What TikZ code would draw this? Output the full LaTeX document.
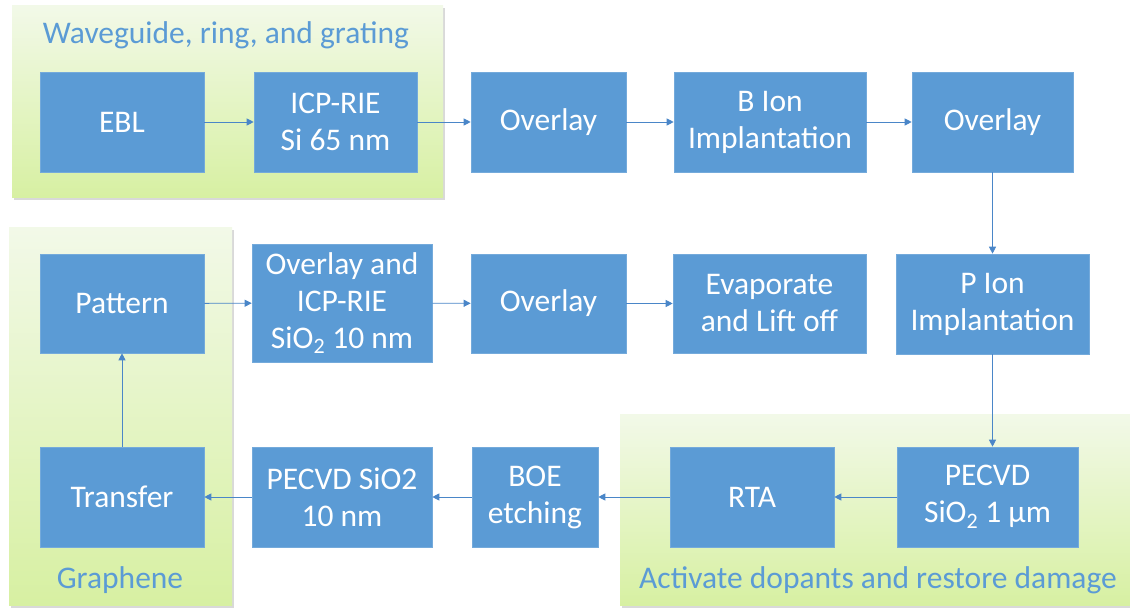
\documentclass[tikz,border=0pt]{standalone}
\usepackage{fontspec}
\setmainfont{Carlito}
\usetikzlibrary{arrows.meta,shadows}
\definecolor{boxblue}{HTML}{5B9BD5}
\definecolor{arrowblue}{HTML}{4A86C8}
\definecolor{labelblue}{HTML}{5B9BD5}
\definecolor{gtop}{HTML}{F2F9E8}
\definecolor{gbot}{HTML}{D7F0A2}
\tikzset{
  stepbox/.style={rectangle, fill=boxblue, draw=boxblue!85!white, line width=0.6pt, text=white,
    font=\fontsize{31.5}{37}\selectfont, align=center, inner sep=0pt},
  group/.style={top color=gtop, bottom color=gbot, draw=none,
    drop shadow={shadow xshift=1.5pt, shadow yshift=-2.5pt, opacity=0.25, fill=black!60}},
  grouplabel/.style={text=labelblue, font=\fontsize{31.5}{37}\selectfont, inner sep=0pt},
  flow/.style={draw=arrowblue, line width=0.9pt, -{Triangle[length=7pt,width=7pt]}}
}
\begin{document}
\begin{tikzpicture}[x=1pt,y=-1pt]
\useasboundingbox (0,0) rectangle (1130,609);
% groups
\path[group] (12,6) rectangle (443,198);
\path[group] (9,228) rectangle (232,605);
\path[group] (620,415) rectangle (1136,605);
\node[grouplabel] (l1) at (226,35) {Waveguide, ring, and grating};
\node[grouplabel] (l2) at (120,580) {Graphene};
\node[grouplabel] (l3) at (878,580) {Activate dopants and restore damage};
% row 1
\node[stepbox, minimum width=164, minimum height=100] (ebl) at (122,122) {EBL};
\node[stepbox, minimum width=163, minimum height=100] (icp) at (335.5,122) {ICP-RIE\\Si 65 nm};
\node[stepbox, minimum width=155, minimum height=100] (ov1) at (548.5,122) {Overlay};
\node[stepbox, minimum width=192, minimum height=100] (bion) at (770,122) {B Ion\\Implantation};
\node[stepbox, minimum width=161, minimum height=100] (ov2) at (992.5,122) {Overlay};
% row 2
\node[stepbox, minimum width=164, minimum height=99] (pat) at (122,303.5) {Pattern};
\node[stepbox, minimum width=180, minimum height=118] (ovicp) at (342,303) {Overlay and\\ICP-RIE\\SiO\textsubscript{2} 10 nm};
\node[stepbox, minimum width=155, minimum height=99] (ov3) at (548.5,303.5) {Overlay};
\node[stepbox, minimum width=193, minimum height=99] (evap) at (769.5,303.5) {Evaporate\\and Lift off};
\node[stepbox, minimum width=193, minimum height=100] (pion) at (992.5,304) {P Ion\\Implantation};
% row 3
\node[stepbox, minimum width=181, minimum height=100] (pec1) at (987.5,497) {PECVD\\SiO\textsubscript{2} 1 µm};
\node[stepbox, minimum width=164, minimum height=100] (rta) at (752,497) {RTA};
\node[stepbox, minimum width=126, minimum height=100] (boe) at (535,497) {BOE\\etching};
\node[stepbox, minimum width=180, minimum height=100] (pec2) at (342,497) {PECVD SiO2\\10 nm};
\node[stepbox, minimum width=164, minimum height=100] (trans) at (122,497) {Transfer};
% connectors
\draw[flow] (ebl) -- (icp);
\draw[flow] (icp) -- (ov1);
\draw[flow] (ov1) -- (bion);
\draw[flow] (bion) -- (ov2);
\draw[flow] (ov2) -- (pion);
\draw[flow] (pion.south) -- (pion.south |- pec1.north);
\draw[flow] (pec1) -- (rta);
\draw[flow] (rta) -- (boe);
\draw[flow] (boe) -- (pec2);
\draw[flow] (pec2) -- (trans);
\draw[flow] (trans) -- (pat);
\draw[flow] (pat) -- (ovicp);
\draw[flow] (ovicp) -- (ov3);
\draw[flow] (ov3) -- (evap);
\end{tikzpicture}
\end{document}
